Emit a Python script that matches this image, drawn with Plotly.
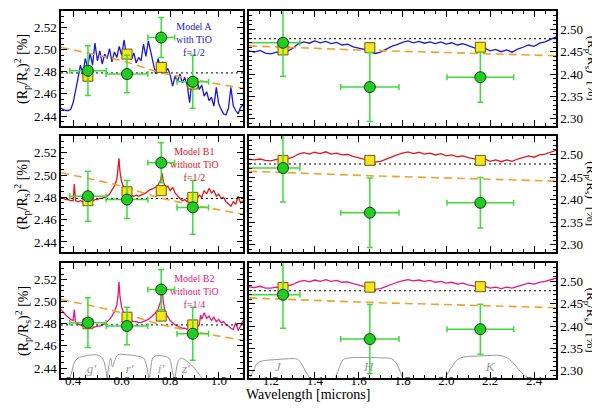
import plotly.graph_objects as go

# Photométrie optique (g', r', i', z') - identique sur les trois lignes
bandes_opt = ["g'", "r'", "i'", "z'"]
lambda_opt = [0.461, 0.622, 0.763, 0.893]
lambda_opt_err = [0.075, 0.086, 0.055, 0.065]
prof_opt = [2.481, 2.478, 2.511, 2.471]
prof_opt_err = [0.0225, 0.017, 0.018, 0.024]

# Photométrie infrarouge (J, H, K)
bandes_ir = ["J", "H", "K"]
lambda_ir = [1.255, 1.651, 2.155]
lambda_ir_err_plus = [0.077, 0.133, 0.152]
lambda_ir_err_moins = [0.16, 0.133, 0.152]
prof_ir = [2.470, 2.371, 2.393]
prof_ir_err = [0.075, 0.077, 0.056]

# Modèles
noms_modeles = ["Model A<br>with TiO<br>f=1/2",
                "Model B1<br>without TiO<br>f=1/2",
                "Model B2<br>without TiO<br>f=1/4"]
couleurs_modeles = ["#1818d6", "#e3161b", "#e3177c"]

# Valeurs intégrées sur les bandes (carrés jaunes)
carres_opt = [[2.476, 2.496, 2.484, 2.469],
              [2.477, 2.485, 2.486, 2.480],
              [2.480, 2.486, 2.487, 2.479]]
carres_ir = [[2.454, 2.459, 2.460],
             [2.487, 2.487, 2.487],
             [2.486, 2.487, 2.488]]

# Niveau plat et pente (Rayleigh)
niveau_plat = 2.479
pente_opt_x = [0.35, 0.6, 0.75, 0.9, 1.1]
pente_opt_y = [2.502, 2.490, 2.480, 2.473, 2.465]
pente_ir_x = [1.1, 1.32, 1.65, 2.15, 2.5]
pente_ir_y = [2.463, 2.459, 2.453, 2.446, 2.441]

# Spectre modèle A
a_opt_x = [0.35, 0.36, 0.37, 0.38, 0.39, 0.40, 0.41, 0.42, 0.43, 0.44, 0.45, 0.46, 0.47, 0.48, 0.49,
           0.50, 0.51, 0.52, 0.53, 0.54, 0.55, 0.56, 0.57, 0.58, 0.59, 0.60, 0.61, 0.62, 0.63, 0.64,
           0.65, 0.66, 0.67, 0.68, 0.69, 0.70, 0.71, 0.72, 0.73, 0.74, 0.75, 0.76, 0.77, 0.78, 0.79,
           0.80, 0.81, 0.82, 0.83, 0.84, 0.85, 0.86, 0.87, 0.88, 0.89, 0.90, 0.91, 0.92, 0.93, 0.94,
           0.95, 0.96, 0.97, 0.98, 0.99, 1.00, 1.01, 1.02, 1.03, 1.04, 1.05, 1.06, 1.07, 1.08, 1.09, 1.10]
a_opt_y = [2.447, 2.446, 2.445, 2.445, 2.446, 2.452, 2.462, 2.474, 2.486, 2.478, 2.492, 2.484, 2.497, 2.486, 2.506,
           2.490, 2.499, 2.487, 2.496, 2.492, 2.501, 2.489, 2.498, 2.493, 2.503, 2.495, 2.509, 2.494, 2.500, 2.491,
           2.497, 2.488, 2.493, 2.490, 2.505, 2.494, 2.508, 2.497, 2.486, 2.478, 2.492, 2.484, 2.489, 2.480, 2.483,
           2.477, 2.467, 2.476, 2.471, 2.478, 2.470, 2.475, 2.468, 2.452, 2.474, 2.466, 2.472, 2.464, 2.468, 2.458,
           2.462, 2.454, 2.457, 2.449, 2.466, 2.451, 2.446, 2.442, 2.441, 2.447, 2.466, 2.449, 2.445, 2.442, 2.448, 2.450]

ir_x = [1.100, 1.125, 1.150, 1.175, 1.200, 1.225, 1.250, 1.275, 1.300, 1.325, 1.350, 1.375, 1.400, 1.425, 1.450,
        1.475, 1.500, 1.525, 1.550, 1.575, 1.600, 1.625, 1.650, 1.675, 1.700, 1.725, 1.750, 1.775, 1.800, 1.825,
        1.850, 1.875, 1.900, 1.925, 1.950, 1.975, 2.000, 2.025, 2.050, 2.075, 2.100, 2.125, 2.150, 2.175, 2.200,
        2.225, 2.250, 2.275, 2.300, 2.325, 2.350, 2.375, 2.400, 2.425, 2.450, 2.475, 2.500]
a_ir_y = [2.452, 2.449, 2.453, 2.447, 2.445, 2.449, 2.446, 2.451, 2.458, 2.468, 2.472, 2.469, 2.474, 2.470, 2.473,
          2.468, 2.471, 2.465, 2.467, 2.461, 2.458, 2.455, 2.450, 2.446, 2.449, 2.455, 2.462, 2.466, 2.471, 2.474,
          2.470, 2.473, 2.469, 2.472, 2.468, 2.472, 2.467, 2.470, 2.465, 2.468, 2.463, 2.459, 2.456, 2.458, 2.452,
          2.455, 2.450, 2.454, 2.449, 2.456, 2.460, 2.465, 2.462, 2.469, 2.472, 2.478, 2.483]

# Spectres modèles B1 et B2 (raies Na et K)
b_opt_x = [0.35, 0.36, 0.37, 0.38, 0.39, 0.400, 0.405, 0.410, 0.42, 0.43, 0.44, 0.45, 0.46, 0.47, 0.48,
           0.49, 0.50, 0.51, 0.52, 0.53, 0.54, 0.55, 0.56, 0.57, 0.580, 0.585, 0.589, 0.593, 0.600, 0.61,
           0.62, 0.63, 0.64, 0.65, 0.66, 0.67, 0.68, 0.69, 0.70, 0.71, 0.72, 0.73, 0.74, 0.750, 0.760,
           0.766, 0.772, 0.78, 0.79, 0.80, 0.81, 0.82, 0.83, 0.84, 0.85, 0.86, 0.87, 0.88, 0.89, 0.90,
           0.91, 0.92, 0.925, 0.93, 0.94, 0.95, 0.96, 0.97, 0.98, 0.99, 1.00, 1.01, 1.02, 1.03, 1.04,
           1.05, 1.06, 1.07, 1.08, 1.09, 1.10]
b1_opt_y = [2.480, 2.479, 2.478, 2.478, 2.477, 2.477, 2.492, 2.477, 2.476, 2.477, 2.476, 2.477, 2.477, 2.476, 2.477,
            2.478, 2.478, 2.479, 2.479, 2.480, 2.481, 2.483, 2.486, 2.490, 2.496, 2.504, 2.515, 2.503, 2.494, 2.488,
            2.485, 2.483, 2.482, 2.481, 2.482, 2.481, 2.482, 2.483, 2.484, 2.486, 2.487, 2.488, 2.489, 2.491, 2.495,
            2.502, 2.494, 2.489, 2.490, 2.486, 2.489, 2.484, 2.481, 2.479, 2.477, 2.478, 2.476, 2.479, 2.477, 2.480,
            2.479, 2.482, 2.481, 2.480, 2.486, 2.483, 2.488, 2.484, 2.486, 2.481, 2.483, 2.479, 2.480, 2.476, 2.474,
            2.472, 2.476, 2.474, 2.481, 2.475, 2.477]
b2_opt_y = [2.493, 2.490, 2.488, 2.486, 2.484, 2.483, 2.493, 2.481, 2.480, 2.479, 2.478, 2.478, 2.477, 2.477, 2.477,
            2.477, 2.478, 2.478, 2.479, 2.480, 2.482, 2.484, 2.487, 2.491, 2.497, 2.505, 2.518, 2.505, 2.495, 2.489,
            2.486, 2.484, 2.483, 2.482, 2.482, 2.481, 2.481, 2.482, 2.483, 2.484, 2.486, 2.488, 2.490, 2.493, 2.500,
            2.513, 2.499, 2.490, 2.486, 2.483, 2.481, 2.479, 2.478, 2.477, 2.476, 2.476, 2.475, 2.475, 2.476, 2.476,
            2.477, 2.479, 2.488, 2.484, 2.490, 2.485, 2.487, 2.483, 2.486, 2.482, 2.484, 2.481, 2.482, 2.479, 2.478,
            2.476, 2.475, 2.481, 2.474, 2.478, 2.483]
b1_ir_y = [2.490, 2.488, 2.490, 2.487, 2.486, 2.489, 2.487, 2.490, 2.494, 2.501, 2.504, 2.501, 2.505, 2.502, 2.506,
           2.501, 2.503, 2.499, 2.500, 2.496, 2.493, 2.490, 2.487, 2.483, 2.485, 2.490, 2.495, 2.499, 2.503, 2.506,
           2.502, 2.505, 2.501, 2.503, 2.499, 2.502, 2.497, 2.499, 2.495, 2.497, 2.493, 2.490, 2.488, 2.490, 2.485,
           2.488, 2.484, 2.488, 2.485, 2.490, 2.493, 2.497, 2.494, 2.499, 2.501, 2.505, 2.509]
b2_ir_y = [2.488, 2.486, 2.489, 2.485, 2.485, 2.487, 2.486, 2.489, 2.493, 2.499, 2.502, 2.499, 2.503, 2.500, 2.504,
           2.500, 2.502, 2.498, 2.499, 2.495, 2.492, 2.489, 2.486, 2.482, 2.484, 2.489, 2.494, 2.498, 2.501, 2.504,
           2.501, 2.503, 2.500, 2.502, 2.498, 2.500, 2.496, 2.498, 2.494, 2.496, 2.492, 2.489, 2.487, 2.489, 2.485,
           2.487, 2.484, 2.487, 2.485, 2.489, 2.492, 2.496, 2.494, 2.498, 2.500, 2.503, 2.507]

spectres_opt = [(a_opt_x, a_opt_y), (b_opt_x, b1_opt_y), (b_opt_x, b2_opt_y)]
spectres_ir = [(ir_x, a_ir_y), (ir_x, b1_ir_y), (ir_x, b2_ir_y)]

# Courbes de transmission des filtres (ligne du bas)
filtres_opt = {
    "g'": ([0.385, 0.395, 0.405, 0.42, 0.45, 0.48, 0.51, 0.525, 0.535, 0.54],
           [2.430, 2.437, 2.445, 2.449, 2.451, 2.452, 2.451, 2.447, 2.438, 2.430]),
    "r'": ([0.540, 0.548, 0.555, 0.562, 0.572, 0.585, 0.62, 0.66, 0.69, 0.70, 0.708, 0.712],
           [2.430, 2.443, 2.449, 2.441, 2.447, 2.452, 2.452, 2.451, 2.449, 2.444, 2.436, 2.430]),
    "i'": ([0.715, 0.720, 0.728, 0.74, 0.77, 0.795, 0.805, 0.812, 0.818],
           [2.430, 2.440, 2.449, 2.451, 2.451, 2.449, 2.442, 2.434, 2.430]),
    "z'": ([0.820, 0.826, 0.835, 0.845, 0.87, 0.90, 0.92, 0.935],
           [2.430, 2.440, 2.447, 2.449, 2.446, 2.440, 2.434, 2.430]),
}
filtres_ir = {
    "J": ([1.105, 1.12, 1.14, 1.17, 1.22, 1.28, 1.32, 1.34, 1.36, 1.375],
          [2.285, 2.300, 2.318, 2.323, 2.325, 2.327, 2.326, 2.315, 2.297, 2.285]),
    "H": ([1.495, 1.51, 1.53, 1.56, 1.62, 1.70, 1.75, 1.775, 1.79, 1.80],
          [2.285, 2.305, 2.325, 2.329, 2.330, 2.329, 2.327, 2.315, 2.297, 2.285]),
    "K": ([1.995, 2.02, 2.05, 2.08, 2.15, 2.25, 2.28, 2.31, 2.34, 2.37],
          [2.285, 2.305, 2.325, 2.331, 2.333, 2.334, 2.328, 2.315, 2.297, 2.285]),
}
etiq_opt_x = [0.475, 0.633, 0.762, 0.865]
etiq_opt_y = 2.4385
etiq_ir_x = [1.232, 1.646, 2.199]
etiq_ir_y = 2.306

police = "Liberation Serif"
vert = "#3ddc3d"
fig = go.Figure()

for i in range(3):
    xl, yl = ("x", "y") if i == 0 else (f"x{2*i+1}", f"y{2*i+1}")
    xr, yr = f"x{2*i+2}", f"y{2*i+2}"
    coul = couleurs_modeles[i]

    # Spectres
    fig.add_trace(go.Scatter(x=spectres_opt[i][0], y=spectres_opt[i][1], xaxis=xl, yaxis=yl,
                             mode="lines", line=dict(color=coul, width=1.3)))
    fig.add_trace(go.Scatter(x=spectres_ir[i][0], y=spectres_ir[i][1], xaxis=xr, yaxis=yr,
                             mode="lines", line=dict(color=coul, width=1.3)))

    # Niveau plat (pointillé) et pente (tirets orange)
    fig.add_trace(go.Scatter(x=[0.35, 1.1], y=[niveau_plat, niveau_plat], xaxis=xl, yaxis=yl,
                             mode="lines", line=dict(color="black", width=1, dash="2px,3px")))
    fig.add_trace(go.Scatter(x=[1.1, 2.5], y=[niveau_plat, niveau_plat], xaxis=xr, yaxis=yr,
                             mode="lines", line=dict(color="black", width=1, dash="2px,3px")))
    fig.add_trace(go.Scatter(x=pente_opt_x, y=pente_opt_y, xaxis=xl, yaxis=yl, mode="lines",
                             line=dict(color="#f0a22c", width=1.6, dash="8px,5px", shape="spline")))
    fig.add_trace(go.Scatter(x=pente_ir_x, y=pente_ir_y, xaxis=xr, yaxis=yr, mode="lines",
                             line=dict(color="#f0a22c", width=1.6, dash="8px,5px", shape="spline")))

    # Filtres sur la dernière ligne
    if i == 2:
        for nom, (fx, fy) in filtres_opt.items():
            fig.add_trace(go.Scatter(x=fx, y=fy, xaxis=xl, yaxis=yl, mode="lines",
                                     line=dict(color="#999999", width=1, shape="spline")))
        for nom, (fx, fy) in filtres_ir.items():
            fig.add_trace(go.Scatter(x=fx, y=fy, xaxis=xr, yaxis=yr, mode="lines",
                                     line=dict(color="#999999", width=1, shape="spline")))
        fig.add_trace(go.Scatter(x=etiq_opt_x, y=[etiq_opt_y] * 4, xaxis=xl, yaxis=yl, mode="text",
                                 text=[f"<i>{b}</i>" for b in bandes_opt],
                                 textfont=dict(family=police, size=13, color="#999999")))
        fig.add_trace(go.Scatter(x=etiq_ir_x, y=[etiq_ir_y] * 3, xaxis=xr, yaxis=yr, mode="text",
                                 text=[f"<i>{b}</i>" for b in bandes_ir],
                                 textfont=dict(family=police, size=13, color="#999999")))

    # Carrés jaunes
    carre = dict(symbol="square", size=10, color="#f4e51c", line=dict(color="#6b5a10", width=1))
    fig.add_trace(go.Scatter(x=lambda_opt, y=carres_opt[i], xaxis=xl, yaxis=yl, mode="markers", marker=carre))
    fig.add_trace(go.Scatter(x=lambda_ir, y=carres_ir[i], xaxis=xr, yaxis=yr, mode="markers", marker=carre))

    # Mesures avec barres d'erreur
    rond = dict(symbol="circle", size=11, color="#22cc22", line=dict(color="#0d400d", width=1))
    fig.add_trace(go.Scatter(
        x=lambda_opt, y=prof_opt, xaxis=xl, yaxis=yl, mode="markers", marker=rond,
        error_x=dict(type="data", array=lambda_opt_err, color=vert, thickness=1.5, width=3),
        error_y=dict(type="data", array=prof_opt_err, color=vert, thickness=1.5, width=3)))
    fig.add_trace(go.Scatter(
        x=lambda_ir, y=prof_ir, xaxis=xr, yaxis=yr, mode="markers", marker=rond,
        error_x=dict(type="data", symmetric=False, array=lambda_ir_err_plus,
                     arrayminus=lambda_ir_err_moins, color=vert, thickness=1.5, width=3),
        error_y=dict(type="data", array=prof_ir_err, color=vert, thickness=1.5, width=3)))

# Axes
commun = dict(showline=True, linecolor="black", linewidth=1.5, mirror="allticks", ticks="inside",
              ticklen=6, tickwidth=1.2, tickcolor="black", showgrid=False, zeroline=False,
              tickfont=dict(family=police, size=13, color="black"))
domaines_y = [[0.7122, 0.9927], [0.4049, 0.6878], [0.0976, 0.378]]
layout_axes = {}
for i in range(3):
    kl, kr = 2 * i + 1, 2 * i + 2
    nxl = "xaxis" if kl == 1 else f"xaxis{kl}"
    nyl = "yaxis" if kl == 1 else f"yaxis{kl}"
    ancre_l = "y" if kl == 1 else f"y{kl}"
    ancre_lx = "x" if kl == 1 else f"x{kl}"
    layout_axes[nxl] = dict(commun, domain=[0.0883, 0.3917], range=[0.35, 1.1], anchor=ancre_l,
                            tick0=0.4, dtick=0.2, tickformat=".1f", showticklabels=(i == 2),
                            ticklabelstandoff=-10,
                            minor=dict(ticks="inside", ticklen=3, tickcolor="black", dtick=0.05, tick0=0.4))
    layout_axes[nyl] = dict(commun, domain=domaines_y[i], range=[2.431, 2.535], anchor=ancre_lx,
                            tick0=2.44, dtick=0.02, tickformat=".2f",
                            minor=dict(ticks="inside", ticklen=3, tickcolor="black", dtick=0.005, tick0=2.44))
    layout_axes[f"xaxis{kr}"] = dict(commun, domain=[0.4017, 0.9133], range=[1.1, 2.5], anchor=f"y{kr}",
                                     tick0=1.2, dtick=0.2, tickformat=".1f", showticklabels=(i == 2),
                                     ticklabelstandoff=-10,
                                     minor=dict(ticks="inside", ticklen=3, tickcolor="black", dtick=0.05, tick0=1.2))
    layout_axes[f"yaxis{kr}"] = dict(commun, domain=domaines_y[i], range=[2.284, 2.541], anchor=f"x{kr}",
                                     side="right", tick0=2.3, dtick=0.05, tickformat=".2f",
                                     minor=dict(ticks="inside", ticklen=3, tickcolor="black", dtick=0.01, tick0=2.3))

# Titres et textes des modèles
titre_y = "(R<sub>p</sub>/R<sub>s</sub>)<sup>2</sup> [%]"
annotations = []
for i in range(3):
    yc = sum(domaines_y[i]) / 2
    annotations.append(dict(text=titre_y, xref="paper", yref="paper", x=0.024, y=yc, textangle=-90,
                            xanchor="center", yanchor="middle",
                            showarrow=False, font=dict(family=police, size=14, color="black")))
    annotations.append(dict(text=titre_y, xref="paper", yref="paper", x=0.973, y=yc, textangle=90,
                            xanchor="center", yanchor="middle",
                            showarrow=False, font=dict(family=police, size=13, color="black")))
    xl, yl = ("x", "y") if i == 0 else (f"x{2*i+1}", f"y{2*i+1}")
    annotations.append(dict(text=noms_modeles[i], xref=xl, yref=yl, x=0.9, y=2.528,
                            xanchor="center", yanchor="top", showarrow=False, align="center",
                            font=dict(family=police, size=10, color=couleurs_modeles[i])))
annotations.append(dict(text="Wavelength [microns]", xref="paper", yref="paper", x=0.5, y=0.034,
                        showarrow=False, font=dict(family=police, size=14, color="black")))

fig.update_layout(width=600, height=410, margin=dict(l=0, r=0, t=0, b=0),
                  plot_bgcolor="white", paper_bgcolor="white", showlegend=False,
                  annotations=annotations, **layout_axes)

fig.write_html("out.html")
